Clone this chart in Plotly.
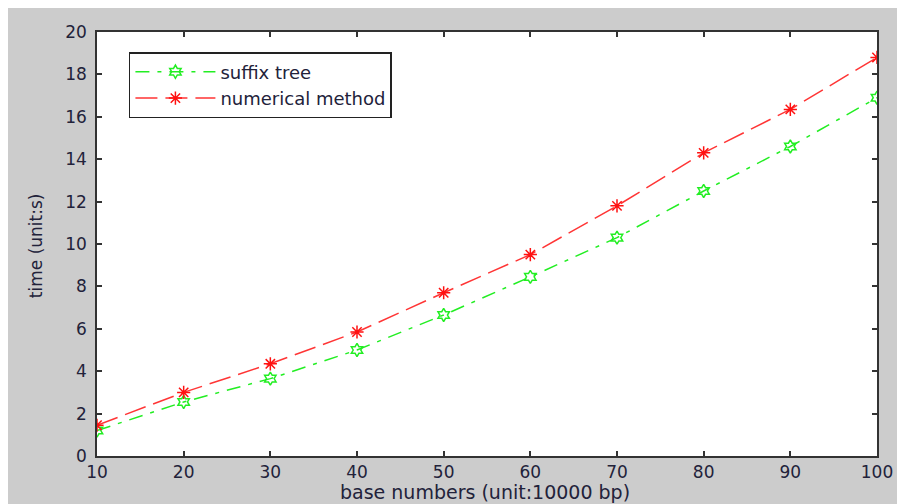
import plotly.graph_objects as go

x_vals = [10, 20, 30, 40, 50, 60, 70, 80, 90, 100]
suffix_tree = [1.2, 2.55, 3.65, 5.0, 6.65, 8.45, 10.3, 12.5, 14.6, 16.9]
numerical_method = [1.45, 3.0, 4.35, 5.85, 7.7, 9.5, 11.8, 14.3, 16.35, 18.8]
x_ticks = [10, 20, 30, 40, 50, 60, 70, 80, 90, 100]
y_ticks = [0, 2, 4, 6, 8, 10, 12, 14, 16, 18, 20]

# page body has an 8px margin; figure origin sits at (8, 8) in the window
OFF = 8
W, H = 905 - OFF, 504 - OFF
PL, PR, PT, PB = 97, 879, 32, 456          # plot box in window pixels
L, R, T, B = PL - OFF, W - (PR - OFF), PT - OFF, H - (PB - OFF)
pw, ph = W - L - R, H - T - B

txt = "#22223a"
font = "DejaVu Sans, Verdana, sans-serif"

fig = go.Figure()
fig.add_trace(go.Scatter(
    x=x_vals, y=suffix_tree, name="suffix tree", mode="lines+markers",
    line=dict(color="#22ee22", width=1.5, dash="14px,8px,4px,8px"),
    marker=dict(symbol="hexagram-open", size=10, color="#22ee22",
                line=dict(color="#22ee22", width=1.5)),
))
fig.add_trace(go.Scatter(
    x=x_vals, y=numerical_method, name="numerical method", mode="lines+markers",
    line=dict(color="#ff3535", width=1.5, dash="22px,8px"),
    marker=dict(symbol="asterisk-open", size=11, color="#ff1111",
                line=dict(color="#ff1111", width=1.5)),
))

axis_common = dict(
    showgrid=False, zeroline=False, showline=True, linecolor="#333333",
    linewidth=1.5, ticks="inside", ticklen=5, tickcolor="#333333",
    tickwidth=1.5, mirror="ticks",
    tickfont=dict(family=font, size=17, color=txt),
)
fig.update_xaxes(range=[10, 100], tickvals=x_ticks, **axis_common)
fig.update_yaxes(range=[0, 20], tickvals=y_ticks, ticklabelstandoff=5,
                 **axis_common)


def px_x(p):
    return (p - PL) / pw


def px_y(p):
    return (PB - p) / ph


fig.update_layout(
    width=W, height=H,
    margin=dict(l=L, r=R, t=T, b=B),
    paper_bgcolor="#cccccc", plot_bgcolor="white",
    showlegend=True,
    legend=dict(
        x=px_x(129), y=px_y(52), xanchor="left", yanchor="top",
        bgcolor="white", bordercolor="#222222", borderwidth=1.5,
        font=dict(family=font, size=18, color=txt),
        itemwidth=80, tracegroupgap=0,
    ),
    annotations=[
        dict(text="base numbers (unit:10000 bp)", xref="paper", yref="paper",
             x=px_x(486), y=px_y(492), xanchor="center", yanchor="middle",
             showarrow=False, font=dict(family=font, size=19, color=txt)),
        dict(text="time (unit:s)", xref="paper", yref="paper",
             x=px_x(36), y=px_y(246), xanchor="center", yanchor="middle",
             textangle=-90, showarrow=False,
             font=dict(family=font, size=17, color=txt)),
    ],
)

fig.write_html("out.html")
